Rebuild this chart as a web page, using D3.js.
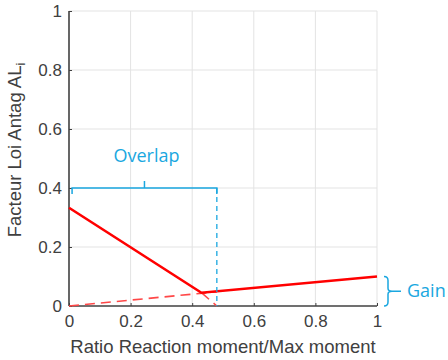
<!DOCTYPE html>
<html><head><meta charset="utf-8">
<script src="https://cdn.jsdelivr.net/npm/d3@7"></script>
<style>body{margin:0;background:#fff}svg{display:block}</style>
</head><body>
<script>
const xTicks = [0, 0.2, 0.4, 0.6, 0.8, 1];
const yTicks = [0, 0.2, 0.4, 0.6, 0.8, 1];
const solidX = [0, 0.43, 1];
const solidY = [0.333, 0.045, 0.1];
const dashGainX = [0, 0.48];
const dashGainY = [0, 0.048];
const dashOverlapX = [0.43, 0.48];
const dashOverlapY = [0.045, 0];
const overlapLevel = 0.4;
const overlapStart = 0.01;
const overlapEnd = 0.48;
const gainLow = 0.0;
const gainHigh = 0.1;

const W = 448, H = 360;
const m = {l: 69, r: 71, t: 11, b: 54};
const svg = d3.select("body").append("svg").attr("width", W).attr("height", H);
const x = d3.scaleLinear().domain([0, 1]).range([m.l, W - m.r]);
const y = d3.scaleLinear().domain([0, 1]).range([H - m.b, m.t]);
const axisColor = "#404040", grid = "#e3e3e3", blue = "#1aa7e0", red = "#ff0000";
const font = "'Liberation Sans', Arial, sans-serif";

// grid
svg.append("g").selectAll("line").data(xTicks.slice(1)).join("line")
  .attr("x1", d => x(d)).attr("x2", d => x(d)).attr("y1", y(0)).attr("y2", y(1))
  .attr("stroke", grid).attr("stroke-width", 1);
svg.append("g").selectAll("line").data(yTicks.slice(1)).join("line")
  .attr("x1", x(0)).attr("x2", x(1)).attr("y1", d => y(d)).attr("y2", d => y(d))
  .attr("stroke", grid).attr("stroke-width", 1);

// axes
const xa = svg.append("g").attr("transform", `translate(0,${y(0)})`)
  .call(d3.axisBottom(x).tickValues(xTicks).tickSize(-3).tickPadding(9).tickFormat(d3.format("~g")));
const ya = svg.append("g").attr("transform", `translate(${x(0)},0)`)
  .call(d3.axisLeft(y).tickValues(yTicks).tickSize(-3).tickPadding(7).tickFormat(d3.format("~g")));
[xa, ya].forEach(a => {
  a.select(".domain").attr("stroke", axisColor).attr("stroke-width", 1.6);
  a.selectAll(".tick line").attr("stroke", axisColor);
  a.selectAll("text").attr("fill", "#404040").attr("font-size", 17).attr("font-family", font);
});
xa.select(".domain").attr("d", `M${x(0)},0H${x(1)}`);
ya.select(".domain").attr("d", `M0,${y(0)}V${y(1)}`);

// labels
svg.append("text").attr("x", (x(0) + x(1)) / 2).attr("y", 353).attr("text-anchor", "middle")
  .attr("font-size", 18.5).attr("font-family", font).attr("fill", "#404040")
  .text("Ratio Reaction moment/Max moment");
const yl = svg.append("text").attr("transform", `translate(21,${150}) rotate(-90)`)
  .attr("text-anchor", "middle").attr("font-size", 18.5).attr("font-family", font).attr("fill", "#404040");
yl.append("tspan").text("Facteur Loi Antag AL");
yl.append("tspan").attr("font-size", 13).attr("dy", 4).text("i");

// lines
const line = d3.line().x(d => x(d[0])).y(d => y(d[1]));
const pts = (a, b) => a.map((v, i) => [v, b[i]]);
svg.append("path").attr("d", line(pts(dashGainX, dashGainY))).attr("fill", "none")
  .attr("stroke", "#ff4848").attr("stroke-width", 1.6).attr("stroke-dasharray", "10,6");
svg.append("path").attr("d", line(pts(dashOverlapX, dashOverlapY))).attr("fill", "none")
  .attr("stroke", "#ff4848").attr("stroke-width", 1.6).attr("stroke-dasharray", "10,6");
svg.append("path").attr("d", line(pts(solidX, solidY))).attr("fill", "none")
  .attr("stroke", red).attr("stroke-width", 2.6);

// overlap bracket
const bx0 = x(overlapStart), bx1 = x(overlapEnd), by = y(overlapLevel);
const bmid = (bx0 + bx1) / 2;
svg.append("path").attr("d", `M${bx0},${by + 6}V${by}H${bx1}V${by + 6}M${bmid},${by}V${by - 7}`)
  .attr("fill", "none").attr("stroke", blue).attr("stroke-width", 1.5);
svg.append("line").attr("x1", bx1).attr("x2", bx1).attr("y1", by).attr("y2", y(0))
  .attr("stroke", blue).attr("stroke-width", 1.3).attr("stroke-dasharray", "5,4");
svg.append("text").attr("x", bmid + 2).attr("y", by - 26).attr("text-anchor", "middle")
  .attr("font-size", 18).attr("font-family", "'Open Sans', sans-serif").attr("fill", blue).text("Overlap");

// gain bracket
const gx = x(1) + 11, gy0 = y(gainHigh), gy1 = y(gainLow);
const gm = (gy0 + gy1) / 2;
svg.append("path").attr("d", `M${gx - 4},${gy0}Q${gx},${gy0} ${gx},${gy0 + 4}V${gm - 3}Q${gx},${gm} ${gx + 4},${gm}Q${gx},${gm} ${gx},${gm + 3}V${gy1 - 4}Q${gx},${gy1} ${gx - 4},${gy1}M${gx + 4},${gm}H${gx + 13}`)
  .attr("fill", "none").attr("stroke", blue).attr("stroke-width", 1.5);
svg.append("text").attr("x", gx + 19).attr("y", gm + 6)
  .attr("font-size", 18).attr("font-family", "'Open Sans', sans-serif").attr("fill", blue).text("Gain");
</script>
</body></html>
